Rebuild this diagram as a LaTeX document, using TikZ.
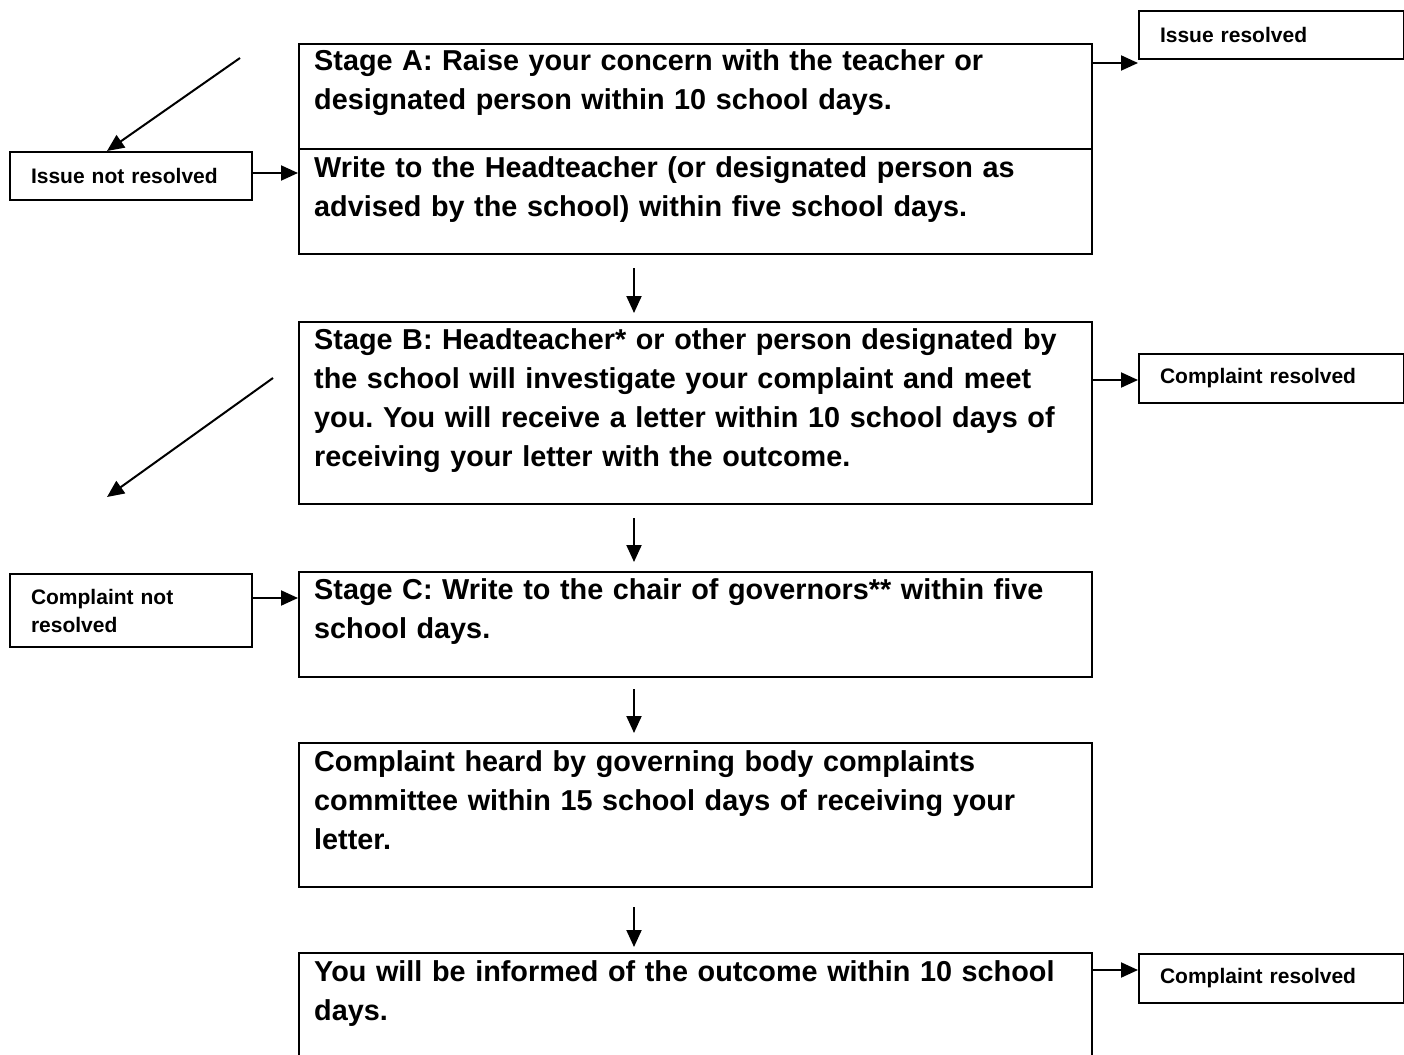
\documentclass[tikz,border=0pt]{standalone}
\usepackage{fontspec}
\setmainfont{Liberation Sans}
\usetikzlibrary{arrows.meta}
\frenchspacing
\begin{document}
\begin{tikzpicture}[x=1pt,y=-1pt,
  box/.style={draw, line width=2pt, inner sep=0pt, anchor=north west, minimum width=793pt},
  txt/.style={anchor=base west, inner sep=0pt, text width=770pt, align=left, font=\fontsize{28.8}{39}\selectfont\bfseries},
  sbox/.style={draw, line width=2pt, anchor=north west, inner xsep=21pt, inner ysep=0pt, align=left, font=\fontsize{21}{28}\selectfont\bfseries},
  lbox/.style={sbox, minimum width=242pt, text width=200pt},
  rbox/.style={sbox, minimum width=265pt, text width=223pt},
  arr/.style={line width=2pt, -{Triangle[length=17pt,width=15pt]}}]
\useasboundingbox (0,0) rectangle (1404,1054);
\fill[white] (0,0) rectangle (1404,1054);

% main boxes
\node[box, minimum height=105pt] (A1) at (298,43) {};
\node[box, minimum height=105pt] (A2) at (298,148) {};
\node[box, minimum height=182pt] (B) at (298,321) {};
\node[box, minimum height=105pt] (C) at (298,571) {};
\node[box, minimum height=144pt] (D) at (298,742) {};
\node[box, minimum height=112pt] (E) at (298,952) {};

% main texts
\node[txt] (tA1) at (314,71) {Stage A: Raise your concern with the teacher or\\designated person within 10 school days.};
\node[txt] (tA2) at (314,177) {Write to the Headteacher (or designated person as\\advised by the school) within five school days.};
\node[txt] (tB) at (314,349) {Stage B: Headteacher* or other person designated by\\the school will investigate your complaint and meet\\you. You will receive a letter within 10 school days of\\receiving your letter with the outcome.};
\node[txt] (tC) at (314,599) {Stage C: Write to the chair of governors** within five\\school days.};
\node[txt] (tD) at (314,771) {Complaint heard by governing body complaints\\committee within 15 school days of receiving your\\letter.};
\node[txt] (tE) at (314,981) {You will be informed of the outcome within 10 school\\days.};

% side boxes
\node[rbox, minimum height=48pt] (IR) at (1138,10) {Issue resolved};
\node[rbox, minimum height=49pt] (CR1) at (1138,353) {Complaint resolved};
\node[rbox, minimum height=49pt] (CR2) at (1138,953) {Complaint resolved};
\node[lbox, minimum height=48pt] (INR) at (9,151) {Issue not resolved};
\node[lbox, minimum height=73pt] (CNR) at (9,573) {Complaint not\\resolved};

% free ends
\coordinate (d1) at (240,58);
\coordinate (d2s) at (273,378);
\coordinate (d2e) at (107,497);

% arrows
\draw[arr] (A1.east |- 0,63) -- (IR.west |- 0,63);
\draw[arr] (B.east |- 0,380) -- (CR1.west |- 0,380);
\draw[arr] (E.east |- 0,970) -- (CR2.west |- 0,970);
\draw[arr] (INR.east |- 0,173) -- (A2.west |- 0,173);
\draw[arr] (CNR.east |- 0,598) -- (C.west |- 0,598);
\draw[arr] (d1) -- (INR.north -| 107,0);
\draw[arr] (d2s) -- (d2e);

\draw[arr, shorten <=13pt, shorten >=8pt] ([xshift=-61.5pt]A2.south) -- ([xshift=-61.5pt]B.north);
\draw[arr, shorten <=13pt, shorten >=9pt] ([xshift=-61.5pt]B.south) -- ([xshift=-61.5pt]C.north);
\draw[arr, shorten <=11pt, shorten >=9pt] ([xshift=-61.5pt]C.south) -- ([xshift=-61.5pt]D.north);
\draw[arr, shorten <=19pt, shorten >=5pt] ([xshift=-61.5pt]D.south) -- ([xshift=-61.5pt]E.north);
\end{tikzpicture}
\end{document}
